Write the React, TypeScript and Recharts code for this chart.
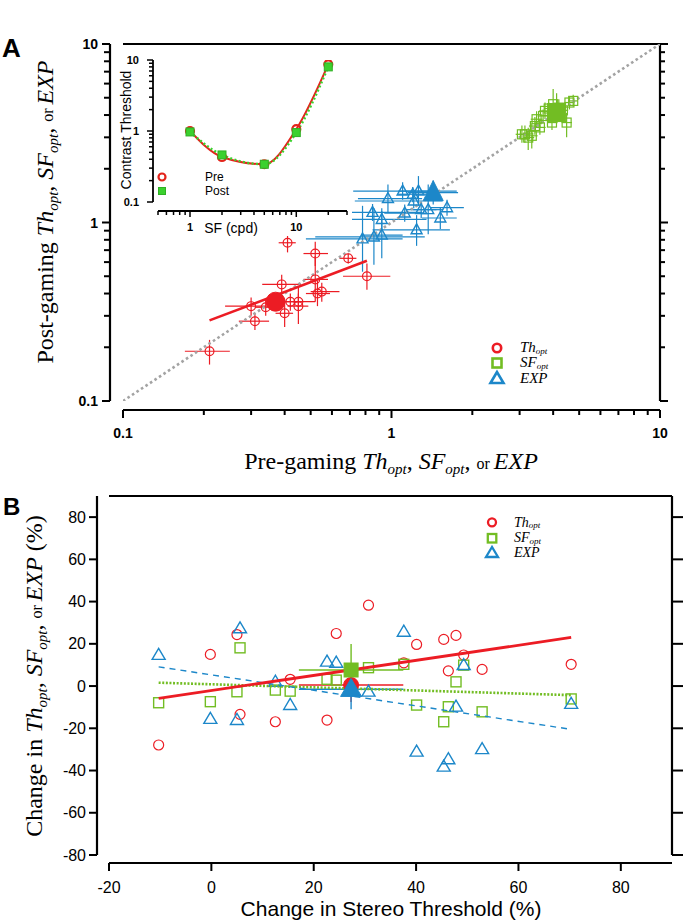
import React from "react";
import { ScatterChart, ComposedChart, Scatter, Line, XAxis, YAxis, ErrorBar } from "recharts";

// ---------- Panel A: pre vs post gaming (log-log) ----------
// Th_opt (red)
const thPre = [0.41, 0.52, 0.69, 0.81, 0.52, 0.39, 0.53, 0.55, 0.42, 0.45, 0.45, 0.3, 0.34, 0.4, 0.31, 0.21];
const thPost = [0.77, 0.67, 0.63, 0.5, 0.48, 0.45, 0.4, 0.41, 0.36, 0.36, 0.34, 0.34, 0.335, 0.31, 0.28, 0.19];
const thPreCI = [[0.38, 0.44], [0.47, 0.58], [0.64, 0.74], [0.66, 0.99], [0.47, 0.58], [0.33, 0.46], [0.48, 0.59], [0.5, 0.64], [0.39, 0.46], [0.39, 0.52], [0.41, 0.49], [0.24, 0.37], [0.31, 0.37], [0.37, 0.43], [0.27, 0.35], [0.17, 0.25]];
const thPostCI = [[0.68, 0.88], [0.57, 0.78], [0.59, 0.67], [0.42, 0.59], [0.36, 0.65], [0.4, 0.51], [0.34, 0.47], [0.36, 0.46], [0.32, 0.4], [0.32, 0.4], [0.27, 0.43], [0.3, 0.38], [0.3, 0.37], [0.26, 0.37], [0.25, 0.31], [0.16, 0.22]];

// EXP (blue)
const expPre = [0.97, 1.1, 1.2, 1.26, 1.21, 1.29, 1.37, 1.61, 1.52, 1.12, 0.85, 0.92, 1.24, 0.78, 0.86, 0.92];
const expPost = [1.36, 1.5, 1.44, 1.5, 1.32, 1.18, 1.18, 1.21, 1.06, 1.13, 1.14, 1.04, 0.91, 0.81, 0.83, 0.85];
const expPreCI = [[0.75, 1.3], [0.72, 1.75], [1.06, 1.36], [1.06, 1.5], [0.73, 1.55], [1.13, 1.47], [1.2, 1.56], [1.39, 1.86], [1.3, 1.75], [0.94, 1.33], [0.5, 1.3], [0.62, 1.35], [0.85, 1.65], [0.48, 1.1], [0.52, 1.33], [0.77, 1.1]];
const expPostCI = [[1.13, 1.63], [1.34, 1.68], [1.3, 1.58], [1.24, 1.82], [1.2, 1.45], [1.06, 1.31], [0.86, 1.63], [1.09, 1.34], [0.92, 1.22], [1.01, 1.26], [1.02, 1.27], [0.9, 1.2], [0.74, 1.1], [0.53, 1.24], [0.58, 1.2], [0.63, 1.16]];

// SF_opt (green)
const sfPre = [4.75, 4.6, 4.0, 4.2, 3.73, 3.67, 3.96, 4.49, 3.47, 3.57, 3.42, 3.14, 3.33, 3.06, 3.23, 4.05, 4.35, 3.85];
const sfPost = [4.8, 4.7, 4.6, 4.4, 4.22, 3.95, 3.63, 3.63, 3.79, 3.41, 3.47, 3.12, 3.06, 3.12, 2.99, 4.05, 4.25, 4.35];
const sfPreCI = [[4.55, 4.95], [4.4, 4.8], [3.85, 4.2], [4.0, 4.4], [3.55, 3.9], [3.5, 3.85], [3.8, 4.15], [4.3, 4.7], [3.3, 3.65], [3.4, 3.75], [3.25, 3.6], [3.0, 3.3], [3.15, 3.5], [2.9, 3.2], [3.1, 3.4], [3.9, 4.2], [4.15, 4.55], [3.7, 4.0]];
const sfPostCI = [[4.45, 5.2], [4.3, 5.1], [4.2, 5.6], [3.9, 4.9], [3.8, 4.7], [3.6, 4.3], [3.3, 4.0], [3.0, 4.1], [3.4, 4.2], [3.1, 3.8], [3.1, 3.9], [2.8, 3.5], [2.6, 3.6], [2.8, 3.5], [2.55, 3.4], [3.7, 4.4], [3.9, 4.6], [4.0, 4.7]];

// group means (order: th, sf, exp)
const meanPreA = [0.37, 4.12, 1.43];
const meanPostA = [0.36, 4.13, 1.47];
const meanPreCIA = [[0.37, 0.37], [3.9, 4.35], [1.15, 1.77]];
const meanPostCIA = [[0.36, 0.36], [3.6, 5.3], [1.26, 1.72]];

// regression of Th_opt and the unity line
const thFitPre = [0.21, 0.81];
const thFitPost = [0.283, 0.61];
const unity = [0.1, 10];

// inset: contrast sensitivity function
const sfCpd = [1, 2, 5, 10, 20];
const ctPre = [1.0, 0.43, 0.34, 1.06, 8.7];
const ctPost = [0.97, 0.46, 0.34, 0.95, 8.0];

// ---------- Panel B: change vs change in stereo threshold ----------
const stereoChange = [-10.3, -0.2, 5.0, 5.6, 12.5, 15.4, 22.6, 24.4, 30.7, 37.6, 40.1, 45.4, 46.3, 47.8, 49.3, 52.9, 70.3];
const thChange = [-27.9, 15.0, 24.4, -13.4, -16.9, 3.2, -16.1, 24.9, 38.3, 11.0, 19.7, 22.1, 7.2, 24.0, 14.7, 7.9, 10.3];
const sfChange = [-7.9, -7.4, -2.7, 18.1, -1.9, -2.4, 3.2, 2.8, 8.7, 10.3, -9.0, -16.9, -9.8, 2.0, 9.9, -12.2, -6.1];
const expChange = [14.7, -15.6, -16.1, 27.3, 2.0, -9.0, 11.5, 11.0, -2.7, 25.7, -31.1, -38.2, -34.7, -9.8, 9.9, -29.9, -8.5];

const meanStereo = 27.3;
const meanStereoErr = 10.2;
const meanChangeB = [0.5, 7.6, -1.5]; // th, sf, exp
const meanChangeErrB = [8, 12.3, 9.5];

const fitStereo = [-10.3, 70.3];
const thFitB = [-5.8, 23.0];
const sfFitB = [1.6, -4.3];
const expFitB = [9.1, -20.5];

// ---------- style ----------
const RED = "#ec1c24";
const GREEN = "#72bd23";
const BLUE = "#1c87c9";
const INSET_RED = "#e3241b";
const INSET_GREEN = "#3bd12e";
const SANS = "'Liberation Sans', Arial, Helvetica, sans-serif";
const SERIF = "'Liberation Serif', 'Times New Roman', serif";

function logTicks(lo: number, hi: number) {
  const out: number[] = [];
  for (let e = Math.floor(Math.log10(lo)); e <= Math.ceil(Math.log10(hi)); e++) {
    for (let m = 1; m < 10; m++) {
      const v = +(m * Math.pow(10, e)).toPrecision(6);
      if (v >= lo - 1e-9 && v <= hi + 1e-9) out.push(v);
    }
  }
  return out;
}
const isDecade = (v: number) => Math.abs(Math.log10(v) - Math.round(Math.log10(v))) < 1e-6;

const LOG_A = logTicks(0.1, 10);
const INSET_X = logTicks(0.5, 30);
const INSET_Y = logTicks(0.1, 10);
const X_B = [-20, 0, 20, 40, 60, 80];
const Y_B = [-80, -60, -40, -20, 0, 20, 40, 60, 80];

type Side = "left" | "right" | "top" | "bottom";
type TickOpts = {
  side: Side;
  shift?: number;
  major?: (v: number) => boolean;
  majorLen: number;
  minorLen?: number;
  label?: (v: number) => string | null;
  labelOff?: number;
  font?: Record<string, any>;
  sw?: number;
};

// draws tick line + label itself, so axes can sit a few px off the plot frame
function axisTick(o: TickOpts) {
  return (props: any) => {
    const { x, y, payload } = props;
    const v = payload.value as number;
    const big = o.major ? o.major(v) : true;
    const len = big ? o.majorLen : o.minorLen ?? o.majorLen;
    const s = o.shift ?? 0;
    const sw = o.sw ?? 2;
    const txt = o.label ? o.label(v) : null;
    const off = o.labelOff ?? 0;
    let line;
    let text = null;
    if (o.side === "left") {
      const ax = x - s;
      line = <line x1={ax} y1={y} x2={ax - len} y2={y} stroke="#000" strokeWidth={sw} />;
      if (txt)
        text = (
          <text x={ax - off} y={y} textAnchor="end" dominantBaseline="central" {...o.font}>
            {txt}
          </text>
        );
    } else if (o.side === "right") {
      const ax = x + s;
      line = <line x1={ax} y1={y} x2={ax + len} y2={y} stroke="#000" strokeWidth={sw} />;
    } else if (o.side === "bottom") {
      const ay = y + s;
      line = <line x1={x} y1={ay} x2={x} y2={ay + len} stroke="#000" strokeWidth={sw} />;
      if (txt)
        text = (
          <text x={x} y={ay + off} textAnchor="middle" {...o.font}>
            {txt}
          </text>
        );
    } else {
      const ay = y - s;
      line = <line x1={x} y1={ay} x2={x} y2={ay - len} stroke="#000" strokeWidth={sw} />;
    }
    return (
      <g>
        {line}
        {text}
      </g>
    );
  };
}

const fontA = { fontFamily: SANS, fontSize: 14, fontWeight: 700, fill: "#000" };
const fontB = { fontFamily: SANS, fontSize: 16, fill: "#000" };
const fontInset = { fontFamily: SANS, fontSize: 11, fontWeight: 700, fill: "#000" };
const decadeLabel = (v: number) => (isDecade(v) ? String(v) : null);

const pairs = (xs: number[], ys: number[], xci?: number[][], yci?: number[][]) =>
  xs.map((x, i) => ({
    x,
    y: ys[i],
    ex: xci ? [x - xci[i][0], xci[i][1] - x] : 0,
    ey: yci ? [ys[i] - yci[i][0], yci[i][1] - ys[i]] : 0,
  }));

const thA = pairs(thPre, thPost, thPreCI, thPostCI);
const expA = pairs(expPre, expPost, expPreCI, expPostCI);
const sfA = pairs(sfPre, sfPost, sfPreCI, sfPostCI);
const meanA = pairs(meanPreA, meanPostA, meanPreCIA, meanPostCIA);
const thFitA = pairs(thFitPre, thFitPost);
const unityA = pairs(unity, unity);
const csf = sfCpd.map((sf, i) => ({ sf, pre: ctPre[i], post: ctPost[i] }));

const thB = pairs(stereoChange, thChange);
const sfB = pairs(stereoChange, sfChange);
const expB = pairs(stereoChange, expChange);
const meanB = meanChangeB.map((y, i) => ({ x: meanStereo, y, ex: meanStereoErr, ey: meanChangeErrB[i] }));
const thFitBData = pairs(fitStereo, thFitB);
const sfFitBData = pairs(fitStereo, sfFitB);
const expFitBData = pairs(fitStereo, expFitB);

// ---------- marker shapes ----------
const noShape = () => <g />;
const circle = (color: string, r: number, sw: number, filled = false) => (p: any) =>
  <circle cx={p.cx} cy={p.cy} r={r} fill={filled ? color : "none"} stroke={color} strokeWidth={sw} />;
const square = (color: string, a: number, sw: number, filled = false) => (p: any) =>
  <rect x={p.cx - a / 2} y={p.cy - a / 2} width={a} height={a} fill={filled ? color : "none"} stroke={color} strokeWidth={sw} />;
const triangle = (color: string, w: number, h: number, sw: number, filled = false) => (p: any) =>
  (
    <polygon
      points={`${p.cx},${p.cy - h * 0.6} ${p.cx - w / 2},${p.cy + h * 0.4} ${p.cx + w / 2},${p.cy + h * 0.4}`}
      fill={filled ? color : "none"}
      stroke={color}
      strokeWidth={sw}
      strokeLinejoin="miter"
    />
  );

const errBars = (color: string, sw = 1.2) => [
  <ErrorBar key="ex" dataKey="ex" direction="x" width={0} stroke={color} strokeWidth={sw} isAnimationActive={false} />,
  <ErrorBar key="ey" dataKey="ey" direction="y" width={0} stroke={color} strokeWidth={sw} isAnimationActive={false} />,
];

function optTitle(prefix: string, size: number, suffix = "") {
  const sub = Math.round(size * 0.62);
  const d = size * 0.22;
  return [
    <tspan key="p">{prefix}</tspan>,
    <tspan key="t" fontStyle="italic">Th</tspan>,
    <tspan key="t2" fontStyle="italic" fontSize={sub} dy={d}>opt</tspan>,
    <tspan key="c1" dy={-d}>, </tspan>,
    <tspan key="s" fontStyle="italic">SF</tspan>,
    <tspan key="s2" fontStyle="italic" fontSize={sub} dy={d}>opt</tspan>,
    <tspan key="c2" dy={-d}>, </tspan>,
    <tspan key="or" fontSize={Math.round(size * 0.68)}>or </tspan>,
    <tspan key="e" fontStyle="italic">EXP</tspan>,
    suffix ? <tspan key="x">{suffix}</tspan> : null,
  ];
}

function LegendEntry({ y, tx, label, sub, size, children }: any) {
  return (
    <g>
      {children}
      <text x={tx} y={y} fontFamily={SERIF} fontStyle="italic" fontSize={size} fill="#000">
        <tspan>{label}</tspan>
        {sub ? (
          <tspan fontSize={Math.round(size * 0.62)} dy={size * 0.12}>
            {sub}
          </tspan>
        ) : null}
      </text>
    </g>
  );
}

const axisLineStyle = (sw: number, t?: string) => ({ stroke: "#000", strokeWidth: sw, transform: t });

export default function App() {
  return (
    <div style={{ position: "absolute", left: 0, top: 0, width: 685, height: 924, background: "#fff" }}>
      {/* Panel A */}
      <div style={{ position: "absolute", left: 0, top: 0 }}>
        <ScatterChart width={685} height={480} margin={{ top: 0, right: 0, bottom: 0, left: 0 }}>
          <XAxis
            type="number"
            dataKey="x"
            scale="log"
            domain={[0.1, 10]}
            allowDataOverflow
            ticks={LOG_A}
            interval={0}
            height={79}
            tickSize={0}
            tickMargin={0}
            tickLine={false}
            axisLine={axisLineStyle(2.2, "translate(0,9)")}
            tick={axisTick({ side: "bottom", shift: 9, major: isDecade, majorLen: 8, minorLen: 5, label: decadeLabel, labelOff: 28, font: fontA, sw: 2 })}
          />
          <XAxis
            xAxisId="t"
            orientation="top"
            type="number"
            scale="log"
            domain={[0.1, 10]}
            allowDataOverflow
            ticks={LOG_A}
            interval={0}
            height={44}
            tickSize={0}
            tickMargin={0}
            tickLine={false}
            axisLine={axisLineStyle(2.2)}
            tick={axisTick({ side: "top", major: isDecade, majorLen: 10, minorLen: 5, sw: 2 })}
          />
          <YAxis
            type="number"
            dataKey="y"
            scale="log"
            domain={[0.1, 10]}
            allowDataOverflow
            ticks={LOG_A}
            interval={0}
            width={123}
            tickSize={0}
            tickMargin={0}
            tickLine={false}
            axisLine={axisLineStyle(2.2, "translate(-13,0)")}
            tick={axisTick({ side: "left", shift: 13, major: isDecade, majorLen: 8, minorLen: 6, label: decadeLabel, labelOff: 12, font: fontA, sw: 2 })}
          />
          <YAxis
            yAxisId="r"
            orientation="right"
            type="number"
            scale="log"
            domain={[0.1, 10]}
            allowDataOverflow
            ticks={LOG_A}
            interval={0}
            width={25}
            tickSize={0}
            tickMargin={0}
            tickLine={false}
            axisLine={axisLineStyle(2.2)}
            tick={axisTick({ side: "right", major: isDecade, majorLen: 8, minorLen: 5, sw: 2 })}
          />
          <Scatter data={unityA} shape={noShape} line={{ stroke: "#a3a3a3", strokeWidth: 2.6, strokeDasharray: "2.6 2.8" }} isAnimationActive={false} />
          <Scatter data={sfA} shape={square(GREEN, 9, 1.2)} isAnimationActive={false}>
            {errBars(GREEN)}
          </Scatter>
          <Scatter data={expA} shape={triangle(BLUE, 11, 10, 1.4)} isAnimationActive={false}>
            {errBars(BLUE)}
          </Scatter>
          <Scatter data={thA} shape={circle(RED, 4.4, 1.2)} isAnimationActive={false}>
            {errBars(RED)}
          </Scatter>
          <Scatter data={thFitA} shape={noShape} line={{ stroke: RED, strokeWidth: 2.6 }} isAnimationActive={false} />
          <Scatter data={[meanA[0]]} shape={circle(RED, 9.5, 1, true)} isAnimationActive={false} />
          <Scatter data={[meanA[1]]} shape={square(GREEN, 18, 1, true)} isAnimationActive={false}>
            {errBars(GREEN)}
          </Scatter>
          <Scatter data={[meanA[2]]} shape={triangle(BLUE, 20, 20, 1, true)} isAnimationActive={false}>
            {errBars(BLUE)}
          </Scatter>
        </ScatterChart>
      </div>

      {/* Inset: opaque backing so the main plot's lines stop at its edge */}
      <div style={{ position: "absolute", left: 113, top: 48, width: 239, height: 188, background: "#fff" }} />
      <div style={{ position: "absolute", left: 100, top: 40 }}>
        <ComposedChart width={260} height={200} data={csf} margin={{ top: 20, right: 13, bottom: 0, left: 0 }}>
          <XAxis
            type="number"
            dataKey="sf"
            scale="log"
            domain={[0.5, 30]}
            allowDataOverflow
            ticks={INSET_X}
            interval={0}
            height={38}
            tickSize={0}
            tickMargin={0}
            tickLine={false}
            axisLine={axisLineStyle(1.8, "translate(0,9)")}
            tick={axisTick({ side: "bottom", shift: 9, major: isDecade, majorLen: 6, minorLen: 4, label: (v) => (v === 1 || v === 10 ? String(v) : null), labelOff: 20, font: fontInset, sw: 1.5 })}
          />
          <YAxis
            type="number"
            scale="log"
            domain={[0.1, 10]}
            allowDataOverflow
            ticks={INSET_Y}
            interval={0}
            width={58}
            tickSize={0}
            tickMargin={0}
            tickLine={false}
            axisLine={axisLineStyle(1.8, "translate(-5,0)")}
            tick={axisTick({ side: "left", shift: 5, major: isDecade, majorLen: 6, minorLen: 4, label: decadeLabel, labelOff: 14, font: fontInset, sw: 1.5 })}
          />
          <Line
            dataKey="pre"
            type="monotone"
            stroke={INSET_RED}
            strokeWidth={2}
            dot={(p: any) => <circle key={`pre${p.index}`} cx={p.cx} cy={p.cy} r={4} fill="none" stroke={INSET_RED} strokeWidth={2.2} />}
            activeDot={false}
            isAnimationActive={false}
          />
          <Line
            dataKey="post"
            type="monotone"
            stroke={INSET_GREEN}
            strokeWidth={2.4}
            strokeDasharray="2 2.4"
            dot={(p: any) => <rect key={`post${p.index}`} x={p.cx - 4} y={p.cy - 4} width={8} height={8} fill={INSET_GREEN} stroke="#2fb024" strokeWidth={1} />}
            activeDot={false}
            isAnimationActive={false}
          />
        </ComposedChart>
      </div>

      {/* Panel B */}
      <div style={{ position: "absolute", left: 0, top: 480 }}>
        <ScatterChart width={685} height={444} margin={{ top: 0, right: 0, bottom: 0, left: 0 }}>
          <XAxis
            type="number"
            dataKey="x"
            domain={[-20, 90]}
            allowDataOverflow
            ticks={X_B}
            interval={0}
            height={69}
            tickSize={0}
            tickMargin={0}
            tickLine={false}
            axisLine={axisLineStyle(2.2, "translate(0,8)")}
            tick={axisTick({ side: "bottom", shift: 8, majorLen: 8, label: (v) => String(v), labelOff: 30, font: fontB, sw: 2 })}
          />
          <XAxis
            xAxisId="t"
            orientation="top"
            type="number"
            domain={[-20, 90]}
            allowDataOverflow
            ticks={X_B}
            interval={0}
            height={16}
            tickSize={0}
            tickMargin={0}
            tickLine={false}
            axisLine={axisLineStyle(2.2)}
            tick={axisTick({ side: "top", majorLen: 8, sw: 2 })}
          />
          <YAxis
            type="number"
            dataKey="y"
            domain={[-80, 90]}
            allowDataOverflow
            ticks={Y_B}
            interval={0}
            width={109}
            tickSize={0}
            tickMargin={0}
            tickLine={false}
            axisLine={axisLineStyle(2.2, "translate(-12,0)")}
            tick={axisTick({ side: "left", shift: 12, majorLen: 8, label: (v) => String(v), labelOff: 11, font: fontB, sw: 2 })}
          />
          <YAxis
            yAxisId="r"
            orientation="right"
            type="number"
            domain={[-80, 90]}
            allowDataOverflow
            ticks={Y_B}
            interval={0}
            width={13}
            tickSize={0}
            tickMargin={0}
            tickLine={false}
            axisLine={axisLineStyle(2.2)}
            tick={axisTick({ side: "right", majorLen: 11, sw: 2 })}
          />
          <Scatter data={thB} shape={circle(RED, 5, 1.2)} isAnimationActive={false} />
          <Scatter data={sfB} shape={square(GREEN, 10, 1.4)} isAnimationActive={false} />
          <Scatter data={expB} shape={triangle(BLUE, 13, 11, 1.4)} isAnimationActive={false} />
          <Scatter data={sfFitBData} shape={noShape} line={{ stroke: GREEN, strokeWidth: 2.6, strokeDasharray: "2 1.6" }} isAnimationActive={false} />
          <Scatter data={expFitBData} shape={noShape} line={{ stroke: BLUE, strokeWidth: 1.4, strokeDasharray: "6 5" }} isAnimationActive={false} />
          <Scatter data={thFitBData} shape={noShape} line={{ stroke: RED, strokeWidth: 2.8 }} isAnimationActive={false} />
          <Scatter data={[meanB[0]]} shape={circle(RED, 7.5, 1, true)} isAnimationActive={false}>
            {errBars(RED, 1.4)}
          </Scatter>
          <Scatter data={[meanB[1]]} shape={square(GREEN, 14, 1, true)} isAnimationActive={false}>
            {errBars(GREEN, 1.4)}
          </Scatter>
          <Scatter data={[meanB[2]]} shape={triangle(BLUE, 21, 18, 1, true)} isAnimationActive={false}>
            {errBars(BLUE, 1.4)}
          </Scatter>
        </ScatterChart>
      </div>

      {/* text overlay: panel letters, titles, legends */}
      <svg width={685} height={924} style={{ position: "absolute", left: 0, top: 0, pointerEvents: "none" }}>
        <text x={2} y={57} fontFamily={SANS} fontWeight={700} fontSize={26} fill="#000">A</text>
        <text x={3} y={515} fontFamily={SANS} fontWeight={700} fontSize={24} fill="#000">B</text>

        <text x={391} y={469} textAnchor="middle" fontFamily={SERIF} fontSize={24} fill="#000" style={{ whiteSpace: "pre" }}>
          {optTitle("Pre-gaming ", 24)}
        </text>
        <text transform="translate(53,212) rotate(-90)" textAnchor="middle" fontFamily={SERIF} fontSize={24} fill="#000" style={{ whiteSpace: "pre" }}>
          {optTitle("Post-gaming ", 24)}
        </text>
        <text transform="translate(42,676) rotate(-90)" textAnchor="middle" fontFamily={SERIF} fontSize={24} fill="#000" style={{ whiteSpace: "pre" }}>
          {optTitle("Change in ", 24, " (%)")}
        </text>
        <text x={391} y={916} textAnchor="middle" fontFamily={SANS} fontSize={21} fill="#000">
          Change in Stereo Threshold (%)
        </text>

        {/* inset labels */}
        <text transform="translate(131,130) rotate(-90)" textAnchor="middle" fontFamily={SANS} fontSize={14} fill="#000">
          Contrast Threshold
        </text>
        <text x={231} y={233} textAnchor="middle" fontFamily={SANS} fontSize={14} fill="#000">SF (cpd)</text>
        <circle cx={162} cy={177} r={3.5} fill="none" stroke={INSET_RED} strokeWidth={2.2} />
        <rect x={158.5} y={187.5} width={7} height={7} fill={INSET_GREEN} stroke="#2fb024" strokeWidth={1} />
        <text x={205} y={181} fontFamily={SANS} fontSize={12} fill="#000">Pre</text>
        <text x={205} y={195} fontFamily={SANS} fontSize={12} fill="#000">Post</text>

        {/* legend A */}
        <LegendEntry tx={520} y={352} label="Th" sub="opt" size={15}>
          <circle cx={497} cy={348} r={4.2} fill="none" stroke={RED} strokeWidth={2.6} />
        </LegendEntry>
        <LegendEntry tx={520} y={367} label="SF" sub="opt" size={15}>
          <rect x={492.5} y={358.5} width={9} height={9} fill="none" stroke={GREEN} strokeWidth={2.6} />
        </LegendEntry>
        <LegendEntry tx={520} y={383} label="EXP" size={15}>
          <polygon points="497,372 490.5,383 503.5,383" fill="none" stroke={BLUE} strokeWidth={2.6} />
        </LegendEntry>

        {/* legend B */}
        <LegendEntry tx={514} y={526.5} label="Th" sub="opt" size={14}>
          <circle cx={492} cy={522.3} r={4} fill="none" stroke={RED} strokeWidth={2.3} />
        </LegendEntry>
        <LegendEntry tx={514} y={542} label="SF" sub="opt" size={14}>
          <rect x={487.8} y={534} width={8.5} height={8.5} fill="none" stroke={GREEN} strokeWidth={2.3} />
        </LegendEntry>
        <LegendEntry tx={514} y={557} label="EXP" size={14}>
          <polygon points="492,547 486,557 498,557" fill="none" stroke={BLUE} strokeWidth={2.3} />
        </LegendEntry>
      </svg>
    </div>
  );
}
